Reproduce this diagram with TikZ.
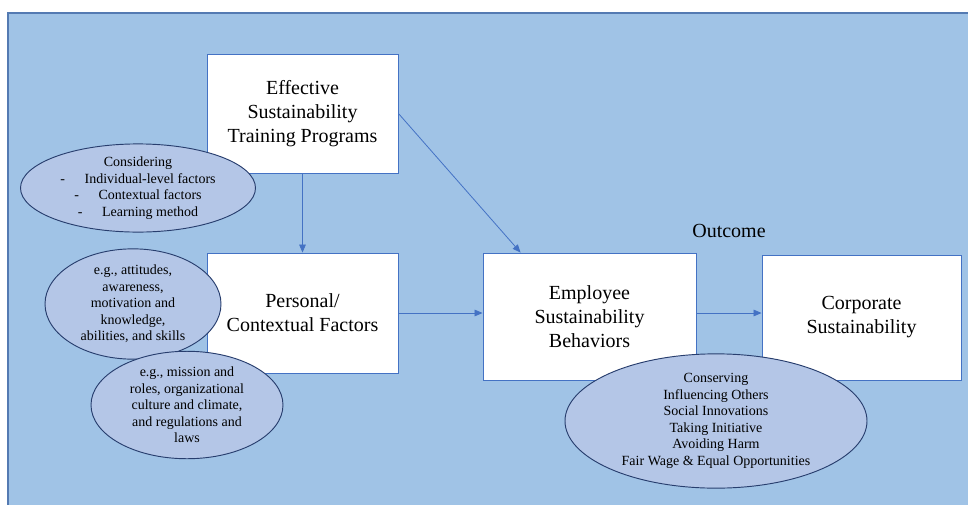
\documentclass[tikz,border=0pt]{standalone}
\usepackage{fontspec}
\setmainfont{Liberation Serif}
\usetikzlibrary{shapes.geometric,arrows.meta}

\definecolor{panelblue}{RGB}{160,195,230}
\definecolor{panelline}{RGB}{84,122,178}
\definecolor{boxline}{RGB}{68,114,196}
\definecolor{notefill}{RGB}{180,198,231}
\definecolor{noteline}{RGB}{40,62,110}

\begin{document}
\begin{tikzpicture}[x=0.75pt,y=-0.75pt,
    factor/.style={draw=boxline, line width=0.7pt, fill=white, align=center,
      inner sep=0pt, font=\rmfamily\fontsize{15}{18}\selectfont},
    note/.style={ellipse, draw=noteline, line width=0.7pt, fill=notefill,
      align=center, inner sep=0pt, font=\rmfamily\fontsize{10.5}{12.4}\selectfont},
    link/.style={draw=boxline, line width=0.6pt, -{Triangle[length=6pt,width=5pt]}}]
  \useasboundingbox (0,0) rectangle (968,504);
  \fill[white] (0,0) rectangle (968,504);
  \draw[fill=panelblue, draw=panelline, line width=0.8pt] (8,13) rectangle (980,515);

  % boxes
  \node[factor, minimum width=143.25pt, minimum height=89.25pt] (training) at (302.5,113.5)
    {Effective\\Sustainability\\Training Programs};
  \node[factor, minimum width=143.25pt, minimum height=90pt] (personal) at (302.5,313)
    {Personal/\\Contextual Factors};
  \node[factor, minimum width=159.75pt, minimum height=95.25pt] (behavior) at (589.5,316.5)
    {Employee\\Sustainability\\Behaviors};
  \node[factor, minimum width=149.25pt, minimum height=93.75pt] (corporate) at (861.5,317.5)
    {Corporate\\Sustainability};
  \node[font=\rmfamily\fontsize{15}{18}\selectfont] (outcome) at (729,231) {Outcome};

  % arrows
  \draw[link] (training.south) -- (personal.north);
  \draw[link] (training.east) -- ([xshift=28.5pt]behavior.north west);
  \draw[link] (personal.east) -- (personal.east -| behavior.west);
  \draw[link] (personal.east -| behavior.east) -- (personal.east -| corporate.west);

  % ellipses
  \node[note, minimum width=176.25pt, minimum height=61.5pt] (considering) at (138,188)
    {Considering\\-\hspace{1.4em}Individual-level factors\\-\hspace{1.4em}Contextual factors\\-\hspace{1.4em}Learning method};
  \node[note, minimum width=132pt, minimum height=75pt] (attitudes) at (133,304)
    {e.g., attitudes,\\awareness,\\motivation and\\knowledge,\\abilities, and skills};
  \node[note, minimum width=144pt, minimum height=75pt] (mission) at (187,405)
    {e.g., mission and\\roles, organizational\\culture and climate,\\and regulations and\\laws};
  \node[note, minimum width=226.5pt, minimum height=94.5pt] (behaviors) at (716,421)
    {Conserving\\Influencing Others\\Social Innovations\\Taking Initiative\\Avoiding Harm\\Fair Wage \& Equal Opportunities};
\end{tikzpicture}
\end{document}
